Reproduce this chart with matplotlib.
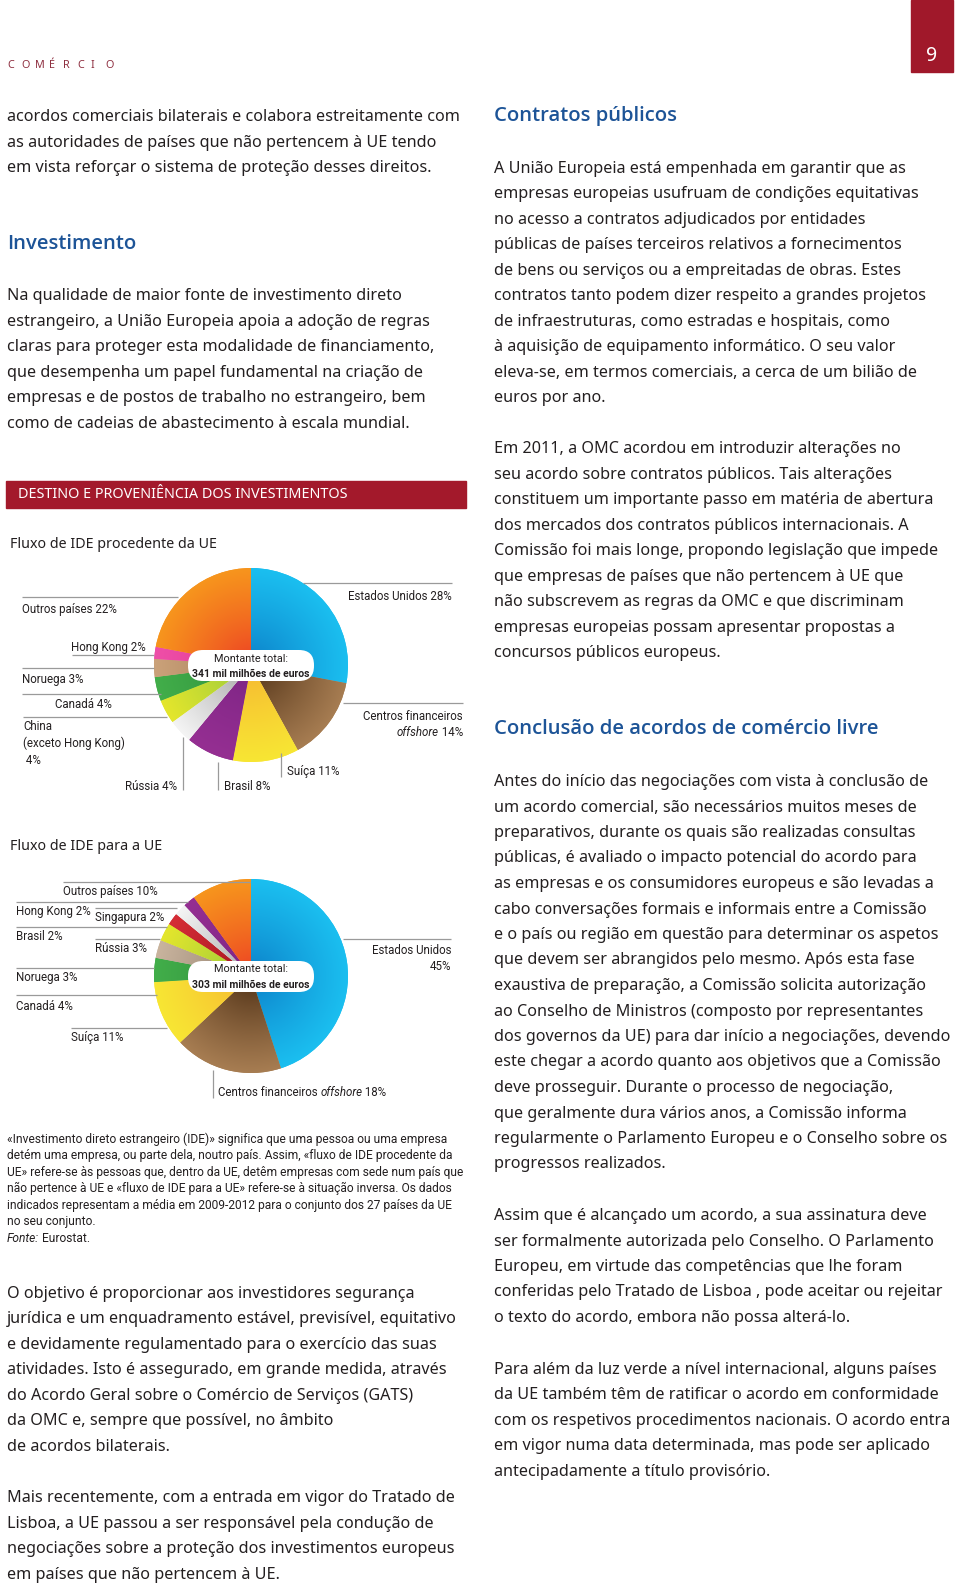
import numpy as np
import matplotlib
matplotlib.use('Agg')
import matplotlib.pyplot as plt
from matplotlib.colors import to_rgb
from matplotlib.patches import Rectangle, FancyBboxPatch

# --- data -------------------------------------------------------------
out_names = ['Estados Unidos', 'Centros financeiros offshore', 'Suíça', 'Brasil', 'Rússia',
             'China (exceto Hong Kong)', 'Canadá', 'Noruega', 'Hong Kong', 'Outros países']
out_vals = [28, 14, 11, 8, 4, 4, 4, 3, 2, 22]
out_total = '341 mil milhões de euros'

in_names = ['Estados Unidos', 'Centros financeiros offshore', 'Suíça', 'Canadá', 'Noruega',
            'Rússia', 'Brasil', 'Singapura', 'Hong Kong', 'Outros países']
in_vals = [45, 18, 11, 4, 3, 3, 2, 2, 2, 10]
in_total = '303 mil milhões de euros'

# inner / outer shade of each slice
out_inner = ['#0b7cc6', '#4a2c12', '#f6b431', '#7a2383', '#9c9c9c', '#8dc63f', '#2c8a3a', '#9c7552', '#e0348f', '#ec3a24']
out_outer = ['#1bbff0', '#a77d52', '#f8e634', '#952f92', '#f4f4f4', '#e4e62c', '#42ae4a', '#cba27a', '#ee4fa8', '#f7951d']
in_inner = ['#0b7cc6', '#4a2c12', '#f6b431', '#2c8a3a', '#8a7868', '#8dc63f', '#9e121c', '#9c9c9c', '#7a2383', '#ec3a24']
in_outer = ['#1bbff0', '#a77d52', '#f8e634', '#42ae4a', '#c9b49e', '#e4e62c', '#d52d36', '#f4f4f4', '#952f92', '#f7951d']

# --- text -------------------------------------------------------------
left_p1 = ['acordos comerciais bilaterais e colabora estreitamente com',
           'as autoridades de países que não pertencem à UE tendo',
           'em vista reforçar o sistema de proteção desses direitos.']
left_p2 = ['Na qualidade de maior fonte de investimento direto',
           'estrangeiro, a União Europeia apoia a adoção de regras',
           'claras para proteger esta modalidade de financiamento,',
           'que desempenha um papel fundamental na criação de',
           'empresas e de postos de trabalho no estrangeiro, bem',
           'como de cadeias de abastecimento à escala mundial.']
foot = ['«Investimento direto estrangeiro (IDE)» significa que uma pessoa ou uma empresa',
        'detém uma empresa, ou parte dela, noutro país. Assim, «fluxo de IDE procedente da',
        'UE» refere-se às pessoas que, dentro da UE, detêm empresas com sede num país que',
        'não pertence à UE e «fluxo de IDE para a UE» refere-se à situação inversa. Os dados',
        'indicados representam a média em 2009-2012 para o conjunto dos 27 países da UE',
        'no seu conjunto.']
left_p3 = ['O objetivo é proporcionar aos investidores segurança',
           'jurídica e um enquadramento estável, previsível, equitativo',
           'e devidamente regulamentado para o exercício das suas',
           'atividades. Isto é assegurado, em grande medida, através',
           'do Acordo Geral sobre o Comércio de Serviços (GATS)',
           'da OMC e, sempre que possível, no âmbito',
           'de acordos bilaterais.']
left_p4 = ['Mais recentemente, com a entrada em vigor do Tratado de',
           'Lisboa, a UE passou a ser responsável pela condução de',
           'negociações sobre a proteção dos investimentos europeus',
           'em países que não pertencem à UE.']
right_p1 = ['A União Europeia está empenhada em garantir que as',
            'empresas europeias usufruam de condições equitativas',
            'no acesso a contratos adjudicados por entidades',
            'públicas de países terceiros relativos a fornecimentos',
            'de bens ou serviços ou a empreitadas de obras. Estes',
            'contratos tanto podem dizer respeito a grandes projetos',
            'de infraestruturas, como estradas e hospitais, como',
            'à aquisição de equipamento informático. O seu valor',
            'eleva-se, em termos comerciais, a cerca de um bilião de',
            'euros por ano.']
right_p2 = ['Em 2011, a OMC acordou em introduzir alterações no',
            'seu acordo sobre contratos públicos. Tais alterações',
            'constituem um importante passo em matéria de abertura',
            'dos mercados dos contratos públicos internacionais. A',
            'Comissão foi mais longe, propondo legislação que impede',
            'que empresas de países que não pertencem à UE que',
            'não subscrevem as regras da OMC e que discriminam',
            'empresas europeias possam apresentar propostas a',
            'concursos públicos europeus.']
right_p3 = ['Antes do início das negociações com vista à conclusão de',
            'um acordo comercial, são necessários muitos meses de',
            'preparativos, durante os quais são realizadas consultas',
            'públicas, é avaliado o impacto potencial do acordo para',
            'as empresas e os consumidores europeus e são levadas a',
            'cabo conversações formais e informais entre a Comissão',
            'e o país ou região em questão para determinar os aspetos',
            'que devem ser abrangidos pelo mesmo. Após esta fase',
            'exaustiva de preparação, a Comissão solicita autorização',
            'ao Conselho de Ministros (composto por representantes',
            'dos governos da UE) para dar início a negociações, devendo',
            'este chegar a acordo quanto aos objetivos que a Comissão',
            'deve prosseguir. Durante o processo de negociação,',
            'que geralmente dura vários anos, a Comissão informa',
            'regularmente o Parlamento Europeu e o Conselho sobre os',
            'progressos realizados.']
right_p4 = ['Assim que é alcançado um acordo, a sua assinatura deve',
            'ser formalmente autorizada pelo Conselho. O Parlamento',
            'Europeu, em virtude das competências que lhe foram',
            'conferidas pelo Tratado de Lisboa , pode aceitar ou rejeitar',
            'o texto do acordo, embora não possa alterá-lo.']
right_p5 = ['Para além da luz verde a nível internacional, alguns países',
            'da UE também têm de ratificar o acordo em conformidade',
            'com os respetivos procedimentos nacionais. O acordo entra',
            'em vigor numa data determinada, mas pode ser aplicado',
            'antecipadamente a título provisório.']

# --- styles -----------------------------------------------------------
BODY = 'Noto Sans'
HEAD = 'Open Sans'
NARROW = 'Roboto'
INK = '#231f20'
BLUE = '#1d5497'
RED = '#a3192b'
GREY = '#9a9a9a'
STEP = 25.5
BSIZE = 11.65
LSIZE = 8.3
FSIZE = 8.65

W, H = 960, 1586
fig = plt.figure(figsize=(W / 100, H / 100), dpi=100)
page = fig.add_axes([0, 0, 1, 1])
page.set_xlim(0, W)
page.set_ylim(H, 0)
page.axis('off')
page.set_zorder(5)
page.patch.set_alpha(0)


def para(x, y0, lines, step=STEP, size=BSIZE, font=BODY, color=INK):
    for i, s in enumerate(lines):
        page.text(x, y0 + i * step, s, fontsize=size, family=font, color=color, va='center')


def head(x, y, s):
    page.text(x, y, s, fontsize=14.6, family=HEAD, weight=600, color=BLUE, va='center')


def lbl(x, y, s, ha='left', **kw):
    return page.text(x, y, s, fontsize=LSIZE, family=NARROW, color=INK, ha=ha, va='center', **kw)


def lead(xs, ys):
    page.plot(xs, ys, color=GREY, lw=0.9, solid_capstyle='butt')


# header
for i, ch in enumerate('COMÉRCIO'):
    page.text(7 + i * 14.0, 66, ch, fontsize=7.8, family=BODY, color='#8e2f40', va='center')
page.add_patch(Rectangle((911, 0), 42, 72, color='#a0182a'))
page.text(932, 56, '9', fontsize=14, family=BODY, color='white', ha='center', va='center')

# left column
para(7, 117.3, left_p1)
head(7, 244, 'Investimento')
para(7, 296.4, left_p2)
page.add_patch(Rectangle((6, 481), 460, 27, color=RED))
page.text(18, 495, 'DESTINO E PROVENIÊNCIA DOS INVESTIMENTOS', fontsize=10.4, family=BODY,
          color='white', va='center')
page.text(10, 544, 'Fluxo de IDE procedente da UE', fontsize=10.25, family=BODY, color=INK, va='center')
page.text(10, 846, 'Fluxo de IDE para a UE', fontsize=10.25, family=BODY, color=INK, va='center')
para(7, 1139, foot, step=16.6, size=FSIZE, font=NARROW)
t = page.text(7, 1139 + 6 * 16.6, 'Fonte:', fontsize=FSIZE, family=NARROW, style='italic', color=INK, va='center')
page.annotate(' Eurostat.', xy=(1, 0), xycoords=t, fontsize=FSIZE, family=NARROW, color=INK, va='bottom')
para(7, 1293.8, left_p3)
para(7, 1498.2, left_p4)

# right column
head(494, 116.3, 'Contratos públicos')
para(494, 168.9, right_p1)
para(494, 449.2, right_p2)
head(494, 729.4, 'Conclusão de acordos de comércio livre')
para(494, 782, right_p3)
para(494, 1216, right_p4)
para(494, 1369.7, right_p5)


# --- pies -------------------------------------------------------------
def pie(cx, cy, r, vals, inner, outer, total):
    ax = fig.add_axes([(cx - r) / W, 1 - (cy + r) / H, 2 * r / W, 2 * r / H])
    wedges, _ = ax.pie(vals, colors=outer, startangle=90, counterclock=False, radius=1)
    g = np.linspace(-1, 1, 240)
    xx, yy = np.meshgrid(g, g)
    rr = np.clip(np.hypot(xx, yy), 0, 1)[..., None] ** 0.8
    for w, ci, co in zip(wedges, inner, outer):
        a, b = np.array(to_rgb(ci)), np.array(to_rgb(co))
        im = ax.imshow(a + (b - a) * rr, extent=(-1, 1, -1, 1), origin='lower',
                       interpolation='bilinear', zorder=3)
        im.set_clip_path(w)
    ax.set_xlim(-1, 1)
    ax.set_ylim(-1, 1)
    ax.axis('off')
    # centre label
    page.add_patch(FancyBboxPatch((cx - 63, cy - 15), 126, 31,
                                  boxstyle='round,pad=0,rounding_size=15', fc='white', ec='none'))
    page.text(cx, cy - 6.5, 'Montante total:', fontsize=7.8, family=NARROW, color=INK, ha='center', va='center')
    page.text(cx, cy + 9.0, total, fontsize=7.5, family=NARROW, weight='bold', color=INK,
              ha='center', va='center')


pie(251, 665, 97, out_vals, out_inner, out_outer, out_total)
pie(251, 976, 97, in_vals, in_inner, in_outer, in_total)


def pct(i, names, vals):
    return f'{names[i]} {vals[i]}%'


# labels, pie 1 (procedente da UE)
lead([303, 452], [583, 583]); lbl(452, 596, pct(0, out_names, out_vals), ha='right')
lead([343, 463], [703, 703]); lbl(463, 716, 'Centros financeiros', ha='right')
t = lbl(463, 733, f' {out_vals[1]}%', ha='right')
page.annotate('offshore', xy=(0, 0), xycoords=t, fontsize=LSIZE, family=NARROW, style='italic',
              color=INK, ha='right', va='bottom')
lead([281, 281], [753, 777]); lbl(287, 771, pct(2, out_names, out_vals))
lead([218, 218], [762, 790]); lbl(224, 787, pct(3, out_names, out_vals))
lead([183, 183], [737, 790]); lbl(177, 787, pct(4, out_names, out_vals), ha='right')
lead([23, 167], [717, 717])
lbl(23, 727, 'China'); lbl(23, 743, '(exceto Hong Kong)'); lbl(23, 760, f' {out_vals[5]}%')
lead([22, 161], [694, 694]); lbl(55, 704, pct(6, out_names, out_vals))
lead([22, 154], [668, 668]); lbl(22, 680, pct(7, out_names, out_vals))
lead([72, 154], [655, 655]); lbl(71, 647, pct(8, out_names, out_vals))
lead([22, 178], [597, 597]); lbl(22, 609, pct(9, out_names, out_vals))

# labels, pie 2 (para a UE)
lead([343, 451], [939, 939]); lbl(451, 951, in_names[0], ha='right'); lbl(451, 967, f'{in_vals[0]}%', ha='right')
lead([213, 213], [1070, 1098])
t = lbl(218, 1093, 'Centros financeiros ')
t = page.annotate('offshore', xy=(1, 0), xycoords=t, fontsize=LSIZE, family=NARROW, style='italic',
                  color=INK, va='bottom')
page.annotate(f' {in_vals[1]}%', xy=(1, 0), xycoords=t, fontsize=LSIZE, family=NARROW, color=INK, va='bottom')
lead([71, 167], [1028, 1028]); lbl(71, 1038, pct(2, in_names, in_vals))
lead([16, 157], [995, 995]); lbl(16, 1006, pct(3, in_names, in_vals))
lead([16, 154], [968, 968]); lbl(16, 978, pct(4, in_names, in_vals))
lead([95, 160], [939, 939]); lbl(95, 949, pct(5, in_names, in_vals))
lead([16, 167], [927, 927]); lbl(16, 937, pct(6, in_names, in_vals))
lead([95, 177], [908, 908]); lbl(95, 918, pct(7, in_names, in_vals))
lead([16, 188], [902, 902]); lbl(16, 912, pct(8, in_names, in_vals))
lead([63, 250], [882, 882]); lbl(63, 892, pct(9, in_names, in_vals))

fig.savefig('out.png', dpi=100)
